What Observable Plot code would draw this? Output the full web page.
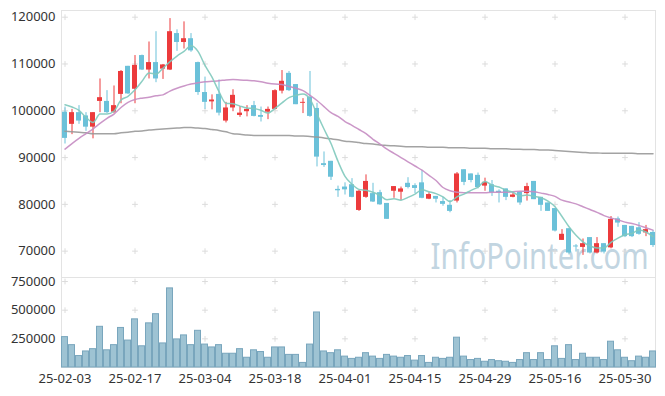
<!DOCTYPE html>
<html><head><meta charset="utf-8">
<script src="https://cdn.jsdelivr.net/npm/d3@7"></script>
<script src="https://cdn.jsdelivr.net/npm/@observablehq/plot@0.6"></script>
<style>
body{margin:0;background:#fff;}
#wrap{position:relative;width:665px;height:396px;font-family:"Noto Sans",sans-serif;}
#topPanel,#botPanel{position:absolute;left:0;}
#topPanel{top:0}
#botPanel{top:277px}
</style></head><body><div id="wrap"><div id="topPanel"></div><div id="botPanel"></div></div>
<script>
const dates = [
"25-02-03","25-02-04","25-02-05","25-02-06","25-02-07","25-02-10","25-02-11","25-02-12","25-02-13","25-02-14",
"25-02-17","25-02-18","25-02-19","25-02-20","25-02-21","25-02-24","25-02-25","25-02-26","25-02-27","25-02-28",
"25-03-04","25-03-05","25-03-06","25-03-07","25-03-10","25-03-11","25-03-12","25-03-13","25-03-14","25-03-17",
"25-03-18","25-03-19","25-03-20","25-03-21","25-03-24","25-03-25","25-03-26","25-03-27","25-03-28","25-03-31",
"25-04-01","25-04-02","25-04-03","25-04-04","25-04-07","25-04-08","25-04-09","25-04-10","25-04-11","25-04-14",
"25-04-15","25-04-16","25-04-17","25-04-18","25-04-21","25-04-22","25-04-23","25-04-24","25-04-25","25-04-28",
"25-04-29","25-04-30","25-05-02","25-05-07","25-05-08","25-05-09","25-05-12","25-05-13","25-05-14","25-05-15",
"25-05-16","25-05-19","25-05-20","25-05-21","25-05-22","25-05-23","25-05-26","25-05-27","25-05-28","25-05-29",
"25-05-30","25-06-02","25-06-04","25-06-05","25-06-09"];
const open = [99700,97100,99600,98900,96500,102000,102000,99700,103500,109500,
104600,111800,108700,110300,108900,108700,116500,114600,115400,110300,
103900,101900,103500,97800,100600,99000,99800,101100,99000,99700,
100300,104200,108000,105600,101600,102900,100500,88700,89200,83200,
83700,84200,78700,81500,82300,82500,80200,82800,82600,84500,
84000,84600,81100,81700,80600,79800,80700,87400,86500,86200,
83900,84200,82800,83300,81500,82600,82300,84900,81500,80300,
79100,72300,74800,71100,70800,72900,69600,71600,70700,76900,
75500,75300,75000,73900,74000];
const high = [100800,100300,101100,99600,99600,106800,104300,105300,108600,109500,
111800,111900,114700,116900,109900,119700,117300,119000,116500,110400,
107200,103400,106600,101800,104500,100900,101100,102000,100800,100800,
104500,108600,108400,105600,102600,108400,101600,91200,89200,83900,
84600,85500,83000,86300,84500,83000,80200,83800,83700,85700,
84400,87200,82500,81700,81500,80800,86800,87400,86500,86700,
85600,85100,83100,83300,82500,82600,84500,84900,81500,80300,
79100,74600,74800,71400,72600,72900,72900,71600,77400,77300,
75500,75300,76100,75500,74400];
const low = [92900,94900,97100,95600,94000,99600,99400,99400,101500,103500,
101500,108600,106800,106000,106700,108600,112700,113200,112500,103300,
100300,100200,98900,97400,99800,98600,98700,98700,97600,98100,
100200,103600,104100,101300,99400,98600,88000,87900,85100,81500,
82000,81400,78500,81300,80400,79800,76800,81300,80800,83300,
82300,81200,81000,80300,79600,78200,80300,84000,84600,83300,
82800,81700,80300,80800,81400,79800,80700,81000,78500,78500,
74100,72300,69200,69800,69100,69400,69400,69400,70500,75100,
72900,72900,73400,73100,70800];
const close = [94100,99600,97800,96500,99600,102800,99600,101100,108400,103600,
109700,108700,110300,106800,109800,116900,114600,115400,112800,103900,
101800,102300,99500,100600,103300,99500,100300,98800,98600,100300,
104300,106300,104300,101300,101800,98800,90100,88300,85800,82900,
83100,81500,82800,84900,80500,79900,76800,83800,83300,83600,
83400,81300,82100,81100,80000,78500,86500,84700,85100,83600,
84700,82500,82500,81500,82000,80300,83800,81000,79800,78500,
74300,73600,69600,70900,71600,69600,71600,69800,76800,76000,
73100,73100,73600,74600,71200];
const volume = [265000,195000,100000,140000,160000,355000,150000,195000,345000,235000,
420000,185000,385000,465000,210000,690000,245000,280000,195000,320000,
200000,175000,195000,120000,120000,160000,85000,150000,135000,85000,
175000,175000,110000,110000,40000,200000,480000,140000,125000,150000,
95000,75000,85000,125000,95000,75000,110000,95000,85000,100000,
60000,100000,40000,85000,75000,85000,260000,95000,65000,75000,
50000,65000,55000,50000,40000,65000,125000,65000,125000,65000,
185000,75000,195000,65000,120000,85000,85000,65000,225000,150000,
85000,55000,95000,85000,140000];
const ma5 = [101300,100800,100100,98600,97500,99300,99300,99900,102300,103100,
104500,106300,108100,107800,109100,110500,111700,112700,113900,112700,
109700,107200,104100,101600,101500,101000,100600,100500,100100,99500,
100500,101700,102800,103300,103600,102500,99300,96100,93000,89200,
86000,84300,83200,83000,82600,81900,81000,81200,80900,81500,
82200,83100,82700,82300,81600,80600,81600,82200,83000,83700,
84900,84100,83700,83000,82600,81800,82000,81700,81400,80700,
79500,77400,75200,73400,72000,71100,70700,70700,71900,72800,
73500,73800,74500,74100,73100];
const ma20 = [91800,93000,94100,95100,96100,97300,98400,99300,100700,101800,
102400,102700,102900,103200,103400,104200,104800,105300,105700,106000,
106200,106300,106400,106600,106700,106600,106500,106400,106200,105900,
105700,105600,105200,104800,104300,103300,102200,100900,99600,98800,
97700,96900,96000,95100,93900,92900,91800,90900,90000,89100,
88200,87300,86200,85100,83600,82900,82600,82500,82500,82500,
82500,82600,82600,82600,82700,82800,82800,82700,82400,82100,
81700,80900,80500,80100,79500,78900,78300,77600,77100,76700,
76200,75900,75500,75000,74500];
const ma60 = [95600,95500,95400,95300,95100,95100,95100,95100,95300,95400,
95600,95700,95900,96000,96100,96200,96300,96400,96400,96300,
96200,96000,95800,95500,95100,95000,94800,94700,94700,94700,
94700,94700,94700,94600,94600,94500,94400,94200,94000,93800,
93500,93400,93200,93000,92900,92700,92600,92500,92400,92300,
92300,92300,92200,92200,92200,92100,92100,92100,92000,92000,
92000,91900,91900,91900,91800,91800,91700,91700,91600,91600,
91500,91400,91300,91200,91100,91000,91000,90900,90900,90900,
90900,90900,90800,90800,90800];
const xTickLabels = ["25-02-03","25-02-17","25-03-04","25-03-18","25-04-01","25-04-15","25-04-29","25-05-16","25-05-30"];
const priceTicks = [70000,80000,90000,100000,110000,120000];
const volumeTicks = [250000,500000,750000];
const watermark = "InfoPointer.com";

const upColor = "#ec3b3c", downColor = "#6bc1d9";
const candles = dates.map((d,i)=>({date:d, open:open[i], high:high[i], low:low[i], close:close[i], volume:volume[i]}));
const colorOf = d => d.close >= d.open ? upColor : downColor;
const grid1 = d3.cross(xTickLabels, priceTicks).map(([x,y])=>({x,y}));
const grid2 = d3.cross(xTickLabels, volumeTicks).map(([x,y])=>({x,y}));
const xRange = [60.3, 657];
const common = {width:665, marginLeft:61, marginRight:10,
  style:{fontFamily:"Noto Sans, sans-serif", fontSize:"13px", color:"#333", background:"transparent", overflow:"visible"}};
const maLine = (arr, stroke) => Plot.line(dates, {x:d=>d, y:(d,i)=>arr[i], stroke, strokeWidth:1.5, strokeOpacity:0.9, curve:"monotone-x"});

const priceChart = Plot.plot({
  ...common, height:278, marginTop:10, marginBottom:1,
  x:{type:"band", domain:dates, range:xRange, padding:0, axis:null},
  y:{domain:[64370,121430], ticks:priceTicks, tickFormat:d=>String(d), tickSize:0, tickPadding:6, label:null},
  color:{type:"identity"},
  marks:[
    Plot.text([watermark], {text:d=>d, frameAnchor:"bottom-right", textAnchor:"end", lineAnchor:"bottom", dx:-7, dy:-9, fontSize:36, fill:"#c2d5e1", fontFamily:"Liberation Sans Narrow, Noto Sans, sans-serif"}),
    Plot.dot(grid1, {x:"x", y:"y", symbol:"plus", r:2, stroke:"#dcdcdc", strokeWidth:1}),
    Plot.frame({stroke:"#e3e3e3"}),
    Plot.ruleX(candles, {x:"date", y1:"low", y2:"high", stroke:colorOf, strokeWidth:1}),
    Plot.barY(candles, {x:"date", y1:"open", y2:"close", fill:colorOf, insetLeft:1, insetRight:1}),
    maLine(ma60, "#999999"),
    maLine(ma20, "#c58cc2"),
    maLine(ma5, "#80c9bc")
  ]
});
document.getElementById("topPanel").appendChild(priceChart);
// fit watermark width to the reference if the narrow font is unavailable
priceChart.querySelectorAll("text").forEach(t=>{
  if (t.textContent===watermark){
    const w = t.getComputedTextLength();
    if (w > 232 || w < 205){ t.setAttribute("textLength","218"); t.setAttribute("lengthAdjust","spacingAndGlyphs"); }
  }
});

const volumeChart = Plot.plot({
  ...common, height:119, marginTop:0, marginBottom:29,
  x:{type:"band", domain:dates, range:xRange, padding:0, ticks:xTickLabels, tickSize:0, tickPadding:6, label:null},
  y:{domain:[0,785000], ticks:volumeTicks, tickFormat:d=>String(d), tickSize:0, tickPadding:6, label:null},
  marks:[
    Plot.dot(grid2, {x:"x", y:"y", symbol:"plus", r:2, stroke:"#dcdcdc", strokeWidth:1}),
    Plot.frame({stroke:"#e3e3e3"}),
    Plot.barY(candles, {x:"date", y:"volume", fill:"#9ec3d3", stroke:"#79a6bd", strokeWidth:1, insetLeft:0.5, insetRight:0.5})
  ]
});
document.getElementById("botPanel").appendChild(volumeChart);
</script></body></html>
